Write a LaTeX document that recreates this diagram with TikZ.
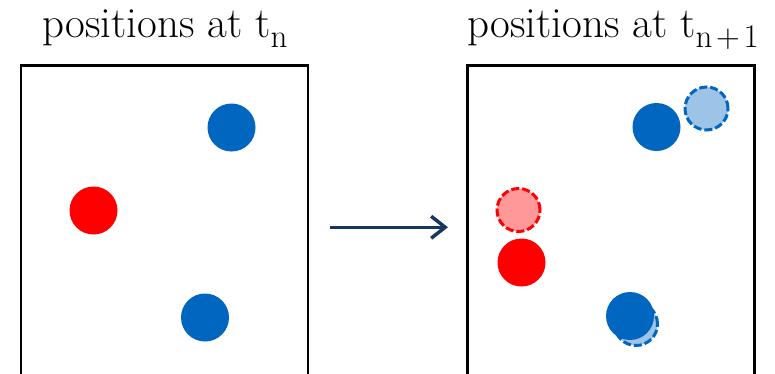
\documentclass[tikz,border=0pt]{standalone}
\usepackage{fontspec}
\usetikzlibrary{arrows.meta,positioning}
\definecolor{partblue}{RGB}{0,102,192}
\definecolor{ghostblue}{RGB}{157,195,230}
\definecolor{partred}{RGB}{255,0,0}
\definecolor{ghostred}{RGB}{255,153,153}
\definecolor{arrownavy}{RGB}{23,55,94}
\newcommand{\tsubs}[1]{t\lower 10pt\hbox{\fontsize{33}{33}\selectfont #1}}

\begin{document}
\begin{tikzpicture}[
			x=1pt, y=-1pt,
			title/.style={anchor=base, inner sep=0pt, font=\fontsize{43}{50}\selectfont},
			frame box/.style={draw, line width=2.5pt, anchor=north west, minimum width=287pt, minimum height=336pt, inner sep=0pt},
			particle/.style={circle, inner sep=0pt, minimum size=48pt},
			ghost/.style={circle, inner sep=0pt, minimum size=43pt, line width=3pt, dash pattern=on 8pt off 3pt}
			]
			
			\useasboundingbox (0,0) rectangle (775,373);
			\clip (0,0) rectangle (775,373);
			
			\node[title] (title old) at (165,37) {positions at \tsubs{n}};
			\node[title] (title new) at (613,37) {positions at \tsubs{n{\fontsize{22}{22}\selectfont\,}+{\fontsize{22}{22}\selectfont\,}1}};
			
			\node[frame box] (box old) at (19.5,64) {};
			\node[frame box] (box new) at (466,64) {};
			
			\node[particle, fill=partblue] (blue a old) at (231.5,127.5) {};
			\node[particle, fill=partred] (red old) at (93.5,210.5) {};
			\node[particle, fill=partblue] (blue b old) at (205,317.5) {};
			
			\node[ghost, draw=partblue, fill=ghostblue] (blue a ghost) at (706.5,108.5) {};
			\node[ghost, draw=partred, fill=ghostred] (red ghost) at (518.5,210) {};
			\node[ghost, draw=partblue, fill=ghostblue] (blue b ghost) at (636,324) {};
			
			\node[particle, fill=partblue] (blue a new) at (656.5,127) {};
			\node[particle, fill=partred] (red new) at (521.5,262.5) {};
			\node[particle, fill=partblue] (blue b new) at (630,316) {};
			
			\draw[arrownavy, line width=3.5pt, -{Straight Barb[length=14pt, width=22pt]}, shorten <=21pt, shorten >=18pt]
				([yshift=6pt]box old.east) -- ([yshift=6pt]box new.west);
		\end{tikzpicture}
\end{document}
